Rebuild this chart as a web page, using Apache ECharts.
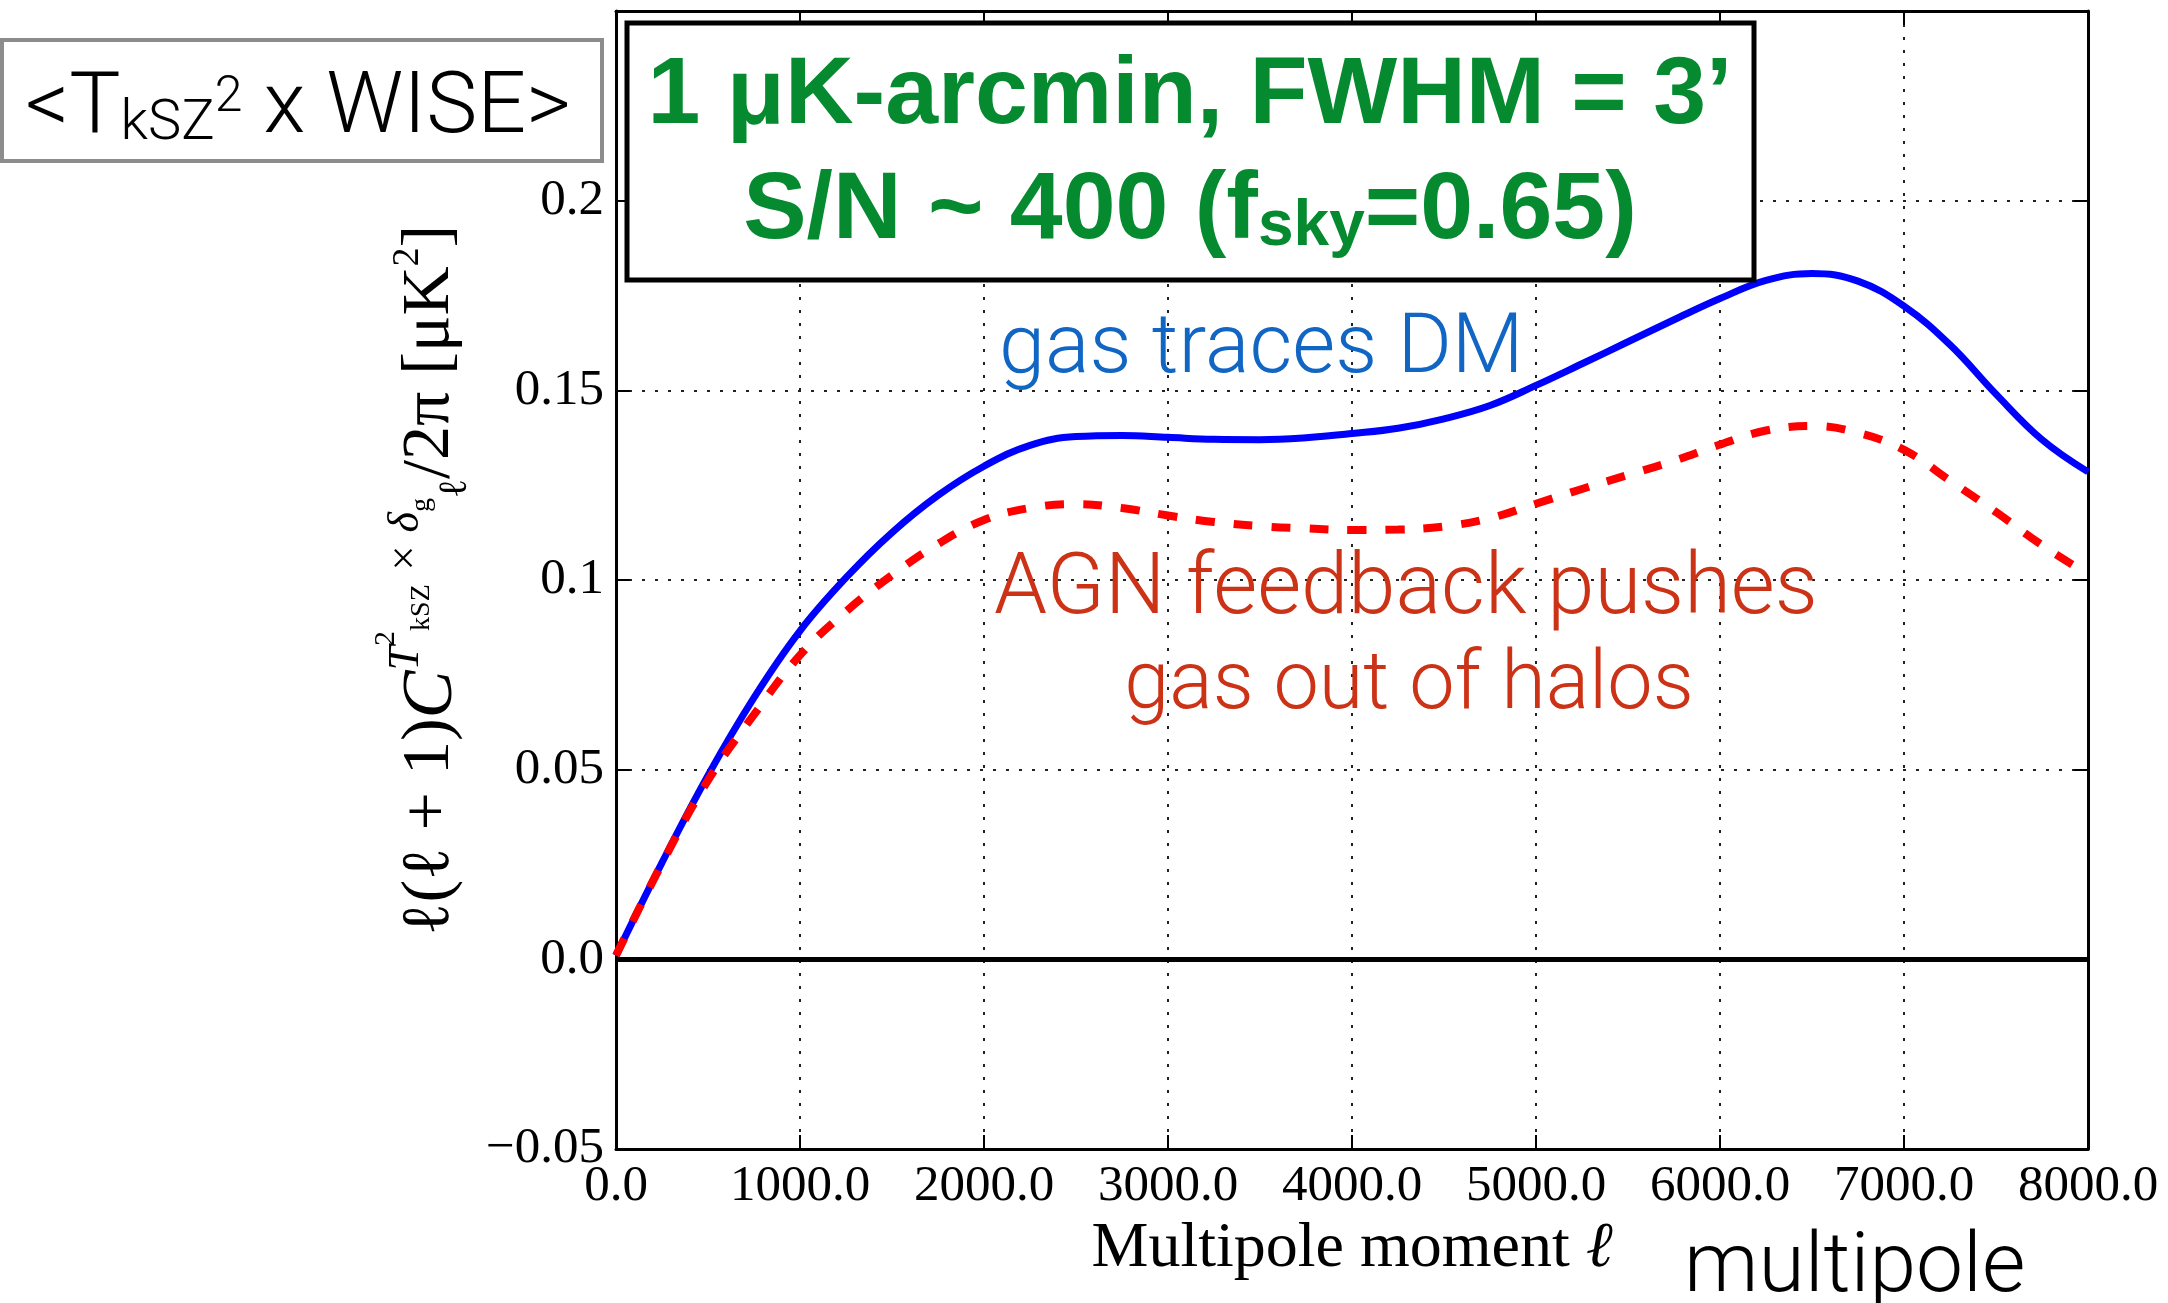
<!DOCTYPE html>
<html>
<head>
<meta charset="utf-8">
<script src="https://cdn.jsdelivr.net/npm/echarts@6/dist/echarts.min.js"></script>
<style>
html,body{margin:0;padding:0;background:#ffffff;}
#chart{width:2168px;height:1303px;}
</style>
</head>
<body>
<div id="chart"></div>
<script>
// ---- data ----
const multipoles = [0,250,500,750,1000,1250,1500,1750,2000,2250,2500,2750,3000,3250,3500,3750,4000,
  4250,4500,4750,5000,5250,5500,5750,6000,6250,6500,6750,7000,7250,7500,7750,8000];
const gasTracesDM = [0.001,0.0255,0.0485,0.0690,0.0866,0.1006,0.1125,0.1223,0.1300,0.1355,0.1378,0.1381,
  0.1376,0.1371,0.1370,0.1375,0.1386,0.1400,0.1425,0.1460,0.1513,0.1570,0.1628,0.1686,0.1742,0.1790,
  0.1808,0.1788,0.1722,0.1620,0.1490,0.1370,0.1285];
const agnFeedback = [0.001,0.0253,0.0472,0.0645,0.0802,0.0917,0.1013,0.1095,0.1158,0.1190,0.1200,0.1190,
  0.1170,0.1153,0.1142,0.1136,0.1132,0.1133,0.1141,0.1163,0.1201,0.1240,0.1277,0.1314,0.1357,0.1394,
  0.1406,0.1388,0.1343,0.1262,0.1179,0.1092,0.1015];
const xTickValues = [0,1000,2000,3000,4000,5000,6000,7000,8000];
const xTickLabels = ['0.0','1000.0','2000.0','3000.0','4000.0','5000.0','6000.0','7000.0','8000.0'];
const yTickValues = [-0.05,0.0,0.05,0.1,0.15,0.2,0.25];
const yTickLabels = ['\u22120.05','0.0','0.05','0.1','0.15','0.2',''];

function lookup(values, labels, v){
  for (let i=0;i<values.length;i++){ if (Math.abs(values[i]-v) < 1e-6) return labels[i]; }
  return '';
}

const SERIF = "'Liberation Serif','DejaVu Serif',serif";
const SANS = "Roboto,'Open Sans','Liberation Sans',sans-serif";
const COND = "'Liberation Sans','Arial',sans-serif";

const chart = echarts.init(document.getElementById('chart'), null, {renderer:'canvas'});

const frameLine = {show:true, onZero:false, lineStyle:{color:'#000', width:3}};
const innerTick = {show:true, inside:true, length:14, lineStyle:{color:'#000', width:2}};
const dotted = {show:true, lineStyle:{color:'#222', width:2, type:[3,10]}};

const yName = '{a|\u2113(\u2113 + 1)}{c|C}{sp|T}{s2|2}{sk|kSZ}{sp| \u00d7 \u03b4}{sk|g}{sl|\u2113}{a|/2\u03c0 [\u03bcK}{q|2}{a|]}';

const option = {
  backgroundColor:'#ffffff',
  animation:false,
  grid:{left:616, right:80, top:11, bottom:154, containLabel:false},
  xAxis:[
    {
      type:'value', position:'bottom', min:0, max:8000, interval:1000,
      axisLine:frameLine, axisTick:innerTick,
      axisLabel:{show:true, color:'#000', fontFamily:SERIF, fontSize:51, margin:12,
        formatter:v=>lookup(xTickValues,xTickLabels,v)},
      splitLine:dotted,
      name:'{n|Multipole moment }{l|\u2113}', nameLocation:'middle', nameGap:56,
      nameTextStyle:{color:'#000', fontFamily:SERIF, fontSize:64,
        rich:{n:{fontFamily:SERIF,fontSize:64,color:'#000'}, l:{fontFamily:SERIF,fontSize:64,fontStyle:'italic',color:'#000'}}}
    },
    {
      type:'value', position:'top', min:0, max:8000, interval:1000,
      axisLine:frameLine, axisTick:innerTick, axisLabel:{show:false}, splitLine:{show:false}
    }
  ],
  yAxis:[
    {
      type:'value', position:'left', min:-0.05, max:0.25, interval:0.05,
      axisLine:frameLine, axisTick:innerTick,
      axisLabel:{show:true, color:'#000', fontFamily:SERIF, fontSize:51, margin:12,
        formatter:v=>lookup(yTickValues,yTickLabels,v)},
      splitLine:dotted,
      name:yName, nameLocation:'middle', nameRotate:90, nameGap:129,
      nameTextStyle:{color:'#000', fontFamily:SERIF, fontSize:68,
        rich:{
          a:{fontFamily:SERIF,fontSize:68,lineHeight:68,padding:[30,0,0,0],verticalAlign:'top',color:'#000'},
          c:{fontFamily:SERIF,fontSize:72,fontStyle:'italic',lineHeight:68,padding:[30,0,0,0],verticalAlign:'top',color:'#000'},
          sp:{fontFamily:SERIF,fontSize:44,fontStyle:'italic',lineHeight:44,padding:[18,0,0,0],verticalAlign:'top',color:'#000'},
          s2:{fontFamily:SERIF,fontSize:30,lineHeight:30,padding:[5,0,0,0],verticalAlign:'top',color:'#000'},
          sk:{fontFamily:SERIF,fontSize:28,lineHeight:28,padding:[42,0,0,0],verticalAlign:'top',color:'#000'},
          sl:{fontFamily:SERIF,fontSize:40,lineHeight:40,padding:[69,0,0,0],verticalAlign:'top',color:'#000'},
          q:{fontFamily:SERIF,fontSize:38,lineHeight:38,padding:[23,0,0,0],verticalAlign:'top',color:'#000'}
        }}
    },
    {
      type:'value', position:'right', min:-0.05, max:0.25, interval:0.05,
      axisLine:frameLine, axisTick:innerTick, axisLabel:{show:false}, splitLine:{show:false}
    }
  ],
  series:[
    {
      name:'gas traces DM', type:'line', xAxisIndex:0, yAxisIndex:0,
      data:multipoles.map((l,i)=>[l,gasTracesDM[i]]),
      smooth:0.4, showSymbol:false, symbol:'none',
      lineStyle:{color:'#0000ff', width:7},
      z:3,
      markLine:{silent:true, symbol:['none','none'], label:{show:false},
        lineStyle:{color:'#000', width:5, type:'solid'}, data:[{yAxis:0}]}
    },
    {
      name:'AGN feedback', type:'line', xAxisIndex:0, yAxisIndex:0,
      data:multipoles.map((l,i)=>[l,agnFeedback[i]]),
      smooth:0.4, showSymbol:false, symbol:'none',
      lineStyle:{color:'#ff0000', width:8, type:[19,19]},
      z:4
    }
  ],
  graphic:[
    {type:'rect', z:100, shape:{x:2, y:40, width:600, height:121},
      style:{fill:'#ffffff', stroke:'#8c8c8c', lineWidth:4}},
    {type:'text', z:101, x:298, y:110,
      style:{text:'{m|<T}{sb|kSZ}{sp|2}{m| x WISE>}', align:'center', verticalAlign:'middle',
        textAlign:'center', textVerticalAlign:'middle',
        fontFamily:SANS, fontSize:86, fill:'#000',
        rich:{
          m:{fontFamily:SANS,fontSize:86,fontWeight:300,lineHeight:86,fill:'#000',color:'#000'},
          sb:{fontFamily:SANS,fontSize:56,fontWeight:300,lineHeight:56,verticalAlign:'bottom',fill:'#000',color:'#000'},
          sp:{fontFamily:SANS,fontSize:50,fontWeight:300,lineHeight:50,padding:[6,0,0,0],verticalAlign:'top',fill:'#000',color:'#000'}
        }}},
    {type:'rect', z:100, shape:{x:627, y:23, width:1127, height:257},
      style:{fill:'#ffffff', stroke:'#000000', lineWidth:5}},
    {type:'text', z:101, x:1190, y:97,
      style:{text:'1 \u03bcK-arcmin, FWHM = 3\u2019', align:'center', verticalAlign:'middle',
        textAlign:'center', textVerticalAlign:'middle',
        fontFamily:COND, fontWeight:'bold', fontSize:95, fill:'#058a30'}},
    {type:'text', z:101, x:1190, y:212,
      style:{text:'{g|S/N ~ 400 (f}{gs|sky}{g|=0.65)}', align:'center', verticalAlign:'middle',
        textAlign:'center', textVerticalAlign:'middle',
        fontFamily:COND, fontWeight:'bold', fontSize:95, fill:'#058a30',
        rich:{
          g:{fontFamily:COND,fontWeight:'bold',fontSize:95,lineHeight:95,fill:'#058a30',color:'#058a30'},
          gs:{fontFamily:COND,fontWeight:'bold',fontSize:64,lineHeight:64,verticalAlign:'bottom',fill:'#058a30',color:'#058a30'}
        }}},
    {type:'text', z:101, x:999, y:351,
      style:{text:'gas traces DM', align:'left', verticalAlign:'middle',
        textAlign:'left', textVerticalAlign:'middle',
        fontFamily:SANS, fontWeight:300, fontSize:83, fill:'#1166c4'}},
    {type:'text', z:101, x:1406, y:592,
      style:{text:'AGN feedback pushes', align:'center', verticalAlign:'middle',
        textAlign:'center', textVerticalAlign:'middle',
        fontFamily:SANS, fontWeight:300, fontSize:85, fill:'#cc3216'}},
    {type:'text', z:101, x:1409, y:688,
      style:{text:'gas out of halos', align:'center', verticalAlign:'middle',
        textAlign:'center', textVerticalAlign:'middle',
        fontFamily:SANS, fontWeight:300, fontSize:81, fill:'#cc3216'}},
    {type:'text', z:101, x:1684, y:1270,
      style:{text:'multipole', align:'left', verticalAlign:'middle',
        textAlign:'left', textVerticalAlign:'middle',
        fontFamily:SANS, fontWeight:300, fontSize:84, fill:'#000'}}
  ]
};
chart.setOption(option);
</script>
</body>
</html>
